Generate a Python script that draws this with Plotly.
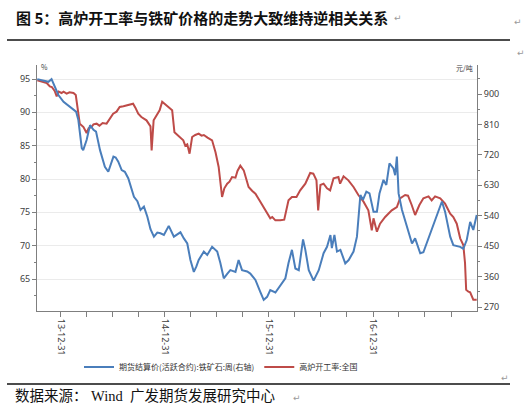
import plotly.graph_objects as go

# ---------------- data ----------------
ore_name = "期货结算价(活跃合约):铁矿石:周(右轴)"
ore_dates = [
    "2013-10-10", "2013-10-22", "2013-11-05", "2013-11-18", "2013-11-29", "2013-12-10", "2013-12-23",
    "2014-01-10", "2014-01-21", "2014-02-02", "2014-02-15", "2014-02-23", "2014-03-03", "2014-03-15",
    "2014-03-20", "2014-04-01", "2014-04-13", "2014-04-25", "2014-05-04", "2014-05-18", "2014-06-04",
    "2014-06-16", "2014-07-04", "2014-07-12", "2014-07-21", "2014-08-02", "2014-08-13", "2014-08-25",
    "2014-09-14", "2014-09-26", "2014-10-07", "2014-10-19", "2014-10-31", "2014-11-11", "2014-11-23",
    "2014-12-05", "2014-12-16", "2014-12-28", "2015-01-14", "2015-02-01", "2015-02-13", "2015-02-24",
    "2015-03-08", "2015-03-20", "2015-03-31", "2015-04-12", "2015-04-21", "2015-04-29", "2015-05-17",
    "2015-05-29", "2015-06-15", "2015-07-03", "2015-07-14", "2015-07-26", "2015-08-07", "2015-08-18",
    "2015-09-05", "2015-09-16", "2015-09-28", "2015-10-16", "2015-10-27", "2015-11-14", "2015-12-01",
    "2015-12-13", "2015-12-25", "2016-01-05", "2016-01-23", "2016-02-09", "2016-02-27", "2016-03-09",
    "2016-03-21", "2016-04-02", "2016-04-14", "2016-04-29", "2016-05-07", "2016-05-19", "2016-06-05",
    "2016-06-23", "2016-07-10", "2016-07-22", "2016-08-03", "2016-08-08", "2016-08-17", "2016-08-26",
    "2016-09-07", "2016-09-24", "2016-10-06", "2016-10-23", "2016-11-04", "2016-11-16", "2016-11-25",
    "2016-12-07", "2016-12-18", "2017-01-01", "2017-01-13", "2017-01-22", "2017-02-05", "2017-02-15",
    "2017-02-26", "2017-03-12", "2017-03-18", "2017-03-24", "2017-03-30", "2017-04-11", "2017-04-28",
    "2017-05-16", "2017-05-27", "2017-06-14", "2017-06-25", "2017-07-13", "2017-07-30", "2017-08-17",
    "2017-08-29", "2017-09-09", "2017-09-27", "2017-10-08", "2017-11-01", "2017-11-12", "2017-11-24",
    "2017-12-06", "2017-12-17", "2017-12-29",
]
ore_values = [
    944, 942, 938, 936, 944, 922, 897,
    877, 870, 863, 855, 848, 823, 740,
    734, 764, 808, 794, 789, 734, 685,
    670, 715, 712, 700, 675, 670, 651,
    596, 583, 557, 567, 537, 500, 478,
    490, 488, 483, 510, 478, 485, 491,
    473, 458, 409, 374, 390, 409, 434,
    424, 448, 434, 400, 355, 368, 379,
    374, 409, 379, 375, 369, 350, 315,
    291, 300, 320, 313, 335, 355, 400,
    439, 384, 379, 470, 439, 379, 348,
    379, 429, 448, 483, 444, 483, 434,
    439, 399, 409, 434, 478, 601, 587,
    611, 606, 552, 552, 606, 646, 631,
    695, 680, 660, 715, 606, 557, 508,
    458, 473, 429, 432, 473, 517, 557,
    582, 552, 478, 453, 448, 442, 468,
    522, 498, 542,
]

rate_name = "高炉开工率:全国"
rate_dates = [
    "2013-10-10", "2013-10-26", "2013-11-12", "2013-11-23", "2013-11-30", "2013-12-10", "2013-12-17",
    "2013-12-24", "2014-01-03", "2014-01-10", "2014-01-21", "2014-01-31", "2014-02-14", "2014-02-22",
    "2014-02-25", "2014-03-08", "2014-03-21", "2014-04-01", "2014-04-08", "2014-04-18", "2014-04-25",
    "2014-05-06", "2014-05-16", "2014-05-27", "2014-06-10", "2014-06-20", "2014-07-03", "2014-07-15",
    "2014-07-26", "2014-08-08", "2014-08-19", "2014-08-29", "2014-09-11", "2014-09-19", "2014-09-29",
    "2014-10-10", "2014-10-28", "2014-11-11", "2014-11-15", "2014-11-22", "2014-12-02", "2014-12-13",
    "2014-12-22", "2015-01-02", "2015-01-14", "2015-01-26", "2015-02-03", "2015-02-13", "2015-02-24",
    "2015-03-06", "2015-03-13", "2015-03-20", "2015-03-28", "2015-04-06", "2015-04-17", "2015-04-29",
    "2015-05-09", "2015-05-17", "2015-05-30", "2015-06-15", "2015-06-27", "2015-07-08", "2015-07-20",
    "2015-07-28", "2015-08-07", "2015-08-15", "2015-08-24", "2015-09-05", "2015-09-12", "2015-09-22",
    "2015-10-04", "2015-10-13", "2015-10-21", "2015-11-03", "2015-11-14", "2015-11-28", "2015-12-13",
    "2015-12-25", "2016-01-05", "2016-01-12", "2016-01-23", "2016-02-09", "2016-02-23", "2016-03-09",
    "2016-03-21", "2016-04-06", "2016-04-19", "2016-05-07", "2016-05-17", "2016-05-24", "2016-06-04",
    "2016-06-15", "2016-06-21", "2016-06-29", "2016-07-10", "2016-07-22", "2016-08-02", "2016-08-14",
    "2016-08-31", "2016-09-06", "2016-09-18", "2016-10-05", "2016-10-23", "2016-11-09", "2016-11-27",
    "2016-12-14", "2016-12-26", "2017-01-01", "2017-01-13", "2017-01-24", "2017-02-11", "2017-03-06",
    "2017-03-24", "2017-04-04", "2017-04-22", "2017-05-02", "2017-05-15", "2017-05-27", "2017-06-11",
    "2017-06-25", "2017-07-13", "2017-07-24", "2017-08-05", "2017-08-23", "2017-09-09", "2017-09-27",
    "2017-10-08", "2017-10-20", "2017-11-01", "2017-11-12", "2017-11-18", "2017-11-22", "2017-11-30",
    "2017-12-06", "2017-12-17", "2017-12-29",
]
rate_values = [
    94.8, 94.6, 94.4, 93.9, 93.8, 93.2, 92.4,
    93.1, 92.9, 93.1, 92.8, 93.0, 92.9, 92.6,
    91.8, 88.3, 87.8, 86.9, 87.6, 87.8, 88.2,
    88.3, 88.0, 88.4, 88.3, 88.9, 89.8, 90.1,
    90.8, 90.9, 91.0, 91.1, 91.3, 90.7, 89.8,
    89.3, 88.8, 87.9, 84.3, 88.8, 89.5, 90.3,
    91.6, 91.2, 90.8, 90.3, 87.0, 86.6, 86.3,
    85.8, 85.0, 85.2, 83.8, 86.3, 86.6, 86.8,
    86.5, 86.6, 86.2, 85.8, 84.0, 81.8, 77.3,
    78.6, 79.3, 79.6, 80.3, 80.2, 81.2, 82.0,
    81.3, 79.8, 78.8, 78.2, 77.8, 76.8, 75.8,
    75.0, 74.1, 74.3, 73.8, 73.8, 73.9, 76.8,
    77.3, 77.3, 78.3, 79.3, 80.3, 80.9, 80.8,
    79.8, 75.3, 79.1, 79.3, 78.6, 78.3, 80.1,
    80.3, 79.3, 80.4, 79.8, 78.8, 77.6, 76.6,
    75.3, 72.3, 74.1, 72.1, 73.3, 74.3, 75.3,
    75.8, 77.1, 77.6, 77.5, 76.1, 74.6, 76.1,
    77.1, 77.4, 76.8, 77.4, 77.1, 76.3, 74.8,
    74.3, 73.3, 71.1, 70.1, 67.4, 63.4, 63.1,
    63.0, 61.9, 61.9,
]

left_ticks = [65, 70, 75, 80, 85, 90, 95]
right_ticks = [270, 360, 450, 540, 630, 720, 810, 900]

title_text = "图 5：高炉开工率与铁矿价格的走势大致维持逆相关关系"
source_text = "数据来源： Wind  广发期货发展研究中心"

# ---------------- figure ----------------
W, H = 532, 413
L, R, T, B = 37, 55, 65, 102
PW, PH = W - L - R, H - T - B


def px(x):
    return (x - L) / PW


def py(y):
    return (H - B - y) / PH


BLUE = "#4A7EBB"
RED = "#BE4B48"
AX = "#7F7F7F"
TXT = "#404040"

fig = go.Figure()
fig.add_trace(go.Scatter(x=ore_dates, y=ore_values, name=ore_name, mode="lines",
                         line=dict(color=BLUE, width=2), yaxis="y2"))
fig.add_trace(go.Scatter(x=rate_dates, y=rate_values, name=rate_name, mode="lines",
                         line=dict(color=RED, width=2), yaxis="y"))

font_cjk = "Noto Sans CJK SC, Noto Sans, sans-serif"

fig.update_layout(
    width=W, height=H, autosize=False,
    margin=dict(l=L, r=R, t=T, b=B, pad=0),
    paper_bgcolor="white", plot_bgcolor="white",
    font=dict(family=font_cjk, size=9, color=TXT),
    showlegend=True,
    legend=dict(orientation="h", x=px(221), xanchor="center", y=py(367), yanchor="middle",
                font=dict(size=8, color="#333333", family=font_cjk), itemwidth=30,
                tracegroupgap=0, bgcolor="rgba(0,0,0,0)"),
    xaxis=dict(
        type="date", range=["2013-10-09", "2017-12-30"],
        tick0="2013-12-31", dtick="M12", tickformat="%y-%m-%d", tickangle=90,
        ticks="outside", ticklen=5, tickcolor=AX, showgrid=False, zeroline=False,
        showline=True, linecolor=AX, linewidth=1,
        tickfont=dict(size=9, color=TXT, family="Noto Sans, sans-serif"),
        minor=dict(dtick="M3", tick0="2013-12-31", ticks="outside", ticklen=5, tickcolor=AX, showgrid=False),
    ),
    yaxis=dict(
        range=[60.2, 97.1], tickvals=left_ticks, ticks="outside", ticklen=4, tickcolor=AX,
        showline=True, linecolor=AX, linewidth=1, showgrid=True, gridcolor="#EBEBEB", gridwidth=1,
        zeroline=False, tickfont=dict(size=9, color=TXT, family="Noto Sans, sans-serif"),
        minor=dict(dtick=2.5, tick0=60, ticks="outside", ticklen=2, tickcolor=AX, showgrid=False),
    ),
    yaxis2=dict(
        range=[258.2, 985.8], tickvals=right_ticks, overlaying="y", side="right",
        ticks="outside", ticklen=4, tickcolor=AX, showline=True, linecolor=AX, linewidth=1,
        showgrid=False, zeroline=False, tickfont=dict(size=9, color=TXT, family="Noto Sans, sans-serif"),
        minor=dict(dtick=45, tick0=0, ticks="outside", ticklen=2, tickcolor=AX, showgrid=False),
    ),
)

# horizontal rules of the document frame
for yy in (40, 384):
    fig.add_shape(type="line", xref="paper", yref="paper", x0=px(7), x1=px(510), y0=py(yy), y1=py(yy),
                  line=dict(color="#111111", width=1.5))

ann = []
ann.append(dict(text="<b>" + title_text + "</b>", x=px(14), y=py(17), xanchor="left", yanchor="middle",
                font=dict(size=15, color="#111111", family=font_cjk)))
ann.append(dict(text=source_text, x=px(13), y=py(396), xanchor="left", yanchor="middle",
                font=dict(size=14.5, color="#111111", family="Liberation Serif, Noto Sans CJK SC, serif")))
ann.append(dict(text="%", x=px(39), y=py(67), xanchor="left", yanchor="middle",
                font=dict(size=7, color=TXT)))
ann.append(dict(text="元/吨", x=px(475), y=py(68), xanchor="right", yanchor="middle",
                font=dict(size=7, color=TXT, family=font_cjk)))
for (ax_, ay_) in [(392, 18), (512, 22), (515, 53), (499, 378), (291, 398)]:
    ann.append(dict(text="↵", x=px(ax_), y=py(ay_), xanchor="left", yanchor="middle",
                    font=dict(size=9, color="#9A9A9A", family="DejaVu Sans")))
for a in ann:
    fig.add_annotation(xref="paper", yref="paper", showarrow=False, **a)

fig.write_html("out.html")
